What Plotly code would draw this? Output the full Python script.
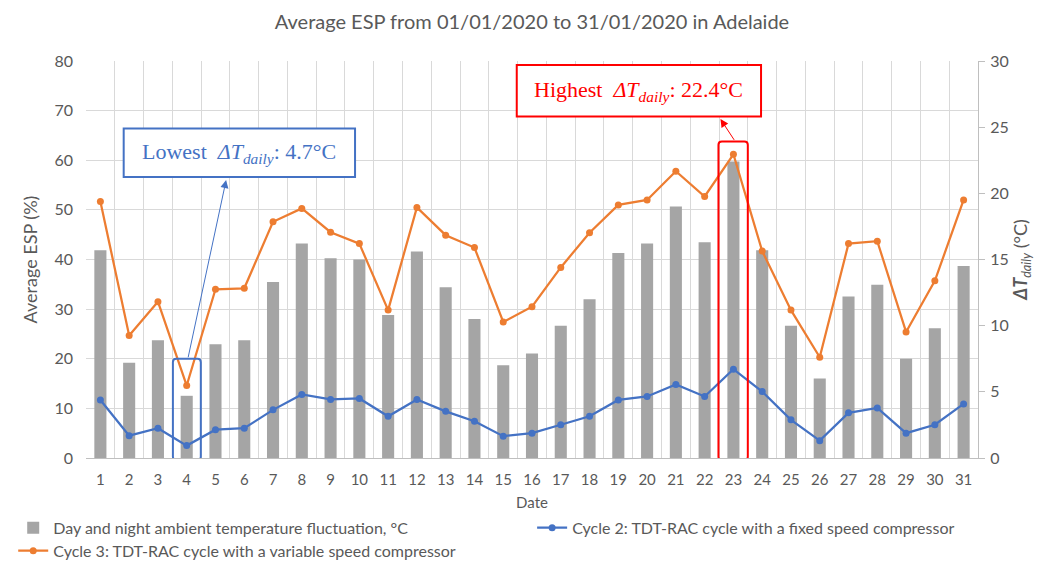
import plotly.graph_objects as go

days = list(range(1, 32))
day_labels = [str(d) for d in days]

# Day and night ambient temperature fluctuation (ΔT daily, °C) - right axis
delta_t = [15.7, 7.2, 8.9, 4.7, 8.6, 8.9, 13.3, 16.2, 15.1, 15.0,
           10.8, 15.6, 12.9, 10.5, 7.0, 7.9, 10.0, 12.0, 15.5, 16.2,
           19.0, 16.3, 22.4, 15.7, 10.0, 6.0, 12.2, 13.1, 7.5, 9.8, 14.5]

# Cycle 2: fixed speed compressor (Average ESP %) - left axis
cycle2 = [11.7, 4.5, 6.0, 2.5, 5.7, 6.0, 9.7, 12.8, 11.8, 12.0,
          8.4, 11.8, 9.4, 7.4, 4.4, 5.0, 6.7, 8.4, 11.7, 12.4,
          14.8, 12.4, 17.9, 13.4, 7.7, 3.5, 9.1, 10.1, 5.0, 6.7, 10.9]

# Cycle 3: variable speed compressor (Average ESP %) - left axis
cycle3 = [51.7, 24.7, 31.5, 14.6, 34.0, 34.2, 47.6, 50.3, 45.5, 43.2,
          29.8, 50.5, 44.9, 42.4, 27.4, 30.5, 38.4, 45.4, 51.0, 52.0,
          57.8, 52.7, 61.2, 41.7, 29.8, 20.3, 43.2, 43.7, 25.4, 35.7, 52.0]

GRAY_TXT = "#595959"
GRID = "#D9D9D9"
FONT = "Lato"
SERIF = "Liberation Serif"

fig = go.Figure()
fig.add_trace(go.Bar(
    x=days, y=delta_t, yaxis="y", width=0.42,
    marker=dict(color="#A5A5A5", line=dict(width=0)),
    name="Day and night ambient temperature fluctuation, °C",
    legend="legend", showlegend=True,
))
fig.add_trace(go.Scatter(
    x=days, y=cycle2, yaxis="y2", mode="lines+markers",
    line=dict(color="#4472C4", width=2.25),
    marker=dict(color="#4472C4", size=7),
    name="Cycle 2: TDT-RAC cycle with a fixed speed compressor",
    legend="legend2", showlegend=True,
))
fig.add_trace(go.Scatter(
    x=days, y=cycle3, yaxis="y2", mode="lines+markers",
    line=dict(color="#ED7D31", width=2.25),
    marker=dict(color="#ED7D31", size=7),
    name="Cycle 3: TDT-RAC cycle with a variable speed compressor",
    legend="legend3", showlegend=True,
))


def rounded_rect(x0, x1, y0, y1, rx=0.12, ry=0.7):
    return (f"M {x0+rx},{y0} L {x1-rx},{y0} Q {x1},{y0} {x1},{y0+ry} "
            f"L {x1},{y1-ry} Q {x1},{y1} {x1-rx},{y1} L {x0+rx},{y1} "
            f"Q {x0},{y1} {x0},{y1-ry} L {x0},{y0+ry} Q {x0},{y0} {x0+rx},{y0} Z")


shapes = [
    dict(type="path", xref="x", yref="y2", path=rounded_rect(3.52, 4.49, -0.4, 20.0),
         line=dict(color="#4472C4", width=2)),
    dict(type="path", xref="x", yref="y2", path=rounded_rect(22.48, 23.5, -0.4, 63.8),
         line=dict(color="#FF0000", width=2)),
    dict(type="rect", xref="x", yref="y2", x0=1.81, x1=9.85, y0=56.6, y1=66.4,
         line=dict(color="#4472C4", width=2), fillcolor="white"),
    dict(type="rect", xref="x", yref="y2", x0=15.47, x1=23.96, y0=68.8, y1=79.2,
         line=dict(color="#FF0000", width=2), fillcolor="white"),
]

annotations = [
    dict(xref="x", yref="y2", x=5.83, y=61.5, showarrow=False,
         text="Lowest  <i>ΔT</i><sub><i>daily</i></sub>: 4.7°C",
         font=dict(family=SERIF, size=22, color="#4472C4")),
    dict(xref="x", yref="y2", x=19.7, y=74.0, showarrow=False,
         text="Highest  <i>ΔT</i><sub><i>daily</i></sub>: 22.4°C",
         font=dict(family=SERIF, size=22, color="#FF0000")),
    dict(xref="x", yref="y2", x=5.37, y=56.0, axref="x", ayref="y2", ax=4.04, ay=20.0,
         showarrow=True, arrowhead=2, arrowsize=1.6, arrowwidth=1, arrowcolor="#4472C4",
         text=""),
    dict(xref="x", yref="y2", x=22.55, y=68.3, axref="x", ayref="y2", ax=23.06, ay=63.8,
         showarrow=True, arrowhead=2, arrowsize=1.6, arrowwidth=1, arrowcolor="#FF0000",
         text=""),
]

legend_common = dict(orientation="h", xref="container", yref="container",
                     xanchor="left", yanchor="top", itemwidth=30,
                     font=dict(family=FONT, size=16, color=GRAY_TXT),
                     tracegroupgap=0, bgcolor="rgba(0,0,0,0)")

fig.update_layout(
    width=1042, height=563,
    showlegend=True,
    margin=dict(l=78, r=72, t=53, b=113, autoexpand=False),
    paper_bgcolor="white", plot_bgcolor="white",
    font=dict(family=FONT, color=GRAY_TXT, size=15),
    title=dict(text="Average ESP from 01/01/2020 to 31/01/2020 in Adelaide",
               x=0.5, xref="paper", y=0.975, yref="container", yanchor="middle",
               font=dict(family=FONT, size=20, color=GRAY_TXT)),
    xaxis=dict(range=[0.5, 31.5], tickmode="array", tickvals=days, ticktext=day_labels,
               showgrid=False, zeroline=False, showline=True, linecolor="#BFBFBF",
               ticks="", tickfont=dict(size=15, color=GRAY_TXT), ticklabelstandoff=8,
               minor=dict(tick0=0.5, dtick=1, showgrid=True, gridcolor=GRID, gridwidth=1),
               title=dict(text="Date", standoff=14, font=dict(size=15, color=GRAY_TXT))),
    yaxis=dict(range=[0, 30], dtick=5, side="right", showgrid=False, zeroline=False,
               showline=True, linecolor="#BFBFBF", ticks="outside", ticklen=6,
               tickcolor="#BFBFBF", tickfont=dict(size=16, color=GRAY_TXT),
               ticklabelstandoff=2,
               title=dict(text="<b><i>ΔT</i></b><sub><i>daily</i></sub> (°C)",
                          standoff=6, font=dict(size=18, color=GRAY_TXT))),
    yaxis2=dict(range=[0, 80], dtick=10, side="left", overlaying="y", showgrid=True,
                gridcolor=GRID, zeroline=False, showline=False, ticks="",
                tickfont=dict(size=16, color=GRAY_TXT), ticklabelstandoff=12,
                title=dict(text="Average ESP (%)", standoff=12,
                           font=dict(size=18, color=GRAY_TXT))),
    legend=dict(x=0.005, y=0.107, **legend_common),
    legend2=dict(x=0.503, y=0.107, **legend_common),
    legend3=dict(x=0.005, y=0.066, **legend_common),
    shapes=shapes,
    annotations=annotations,
    bargap=0.5,
)

fig.write_html("out.html")
